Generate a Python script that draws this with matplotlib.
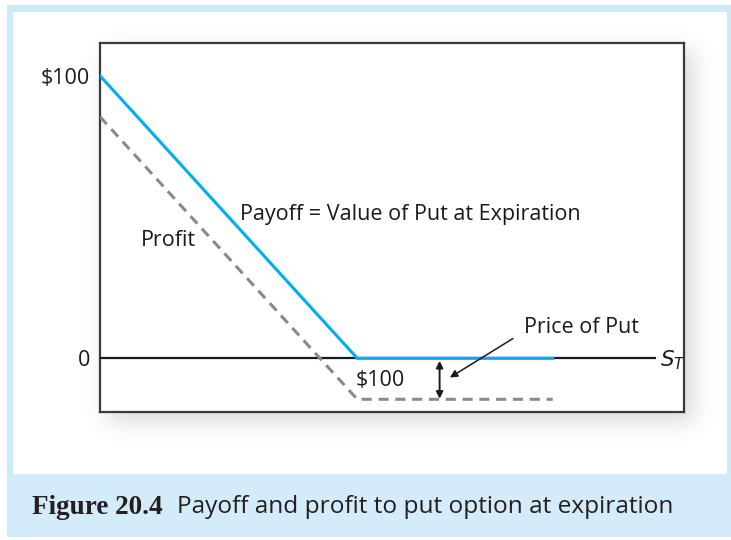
import numpy as np
import matplotlib
matplotlib.use("Agg")
import matplotlib.pyplot as plt
from matplotlib.patches import Rectangle

# Put option with strike $100
strike = 100
put_price = 14.5
stock_prices = [0, strike, 176]
payoff = [max(strike - s, 0) for s in stock_prices]
profit = [p - put_price for p in payoff]

y_ticks = [0, 100]
y_tick_labels = ["0", "$100"]

W, H = 731, 540
DPI = 100
fig = plt.figure(figsize=(W / DPI, H / DPI), dpi=DPI)
fig.patch.set_facecolor("white")

frame_blue = "#cdeaf9"
band_blue = "#d4ecf9"
line_blue = "#00aeef"
dash_gray = "#8a8a8a"


def px_rect(x0, y0, x1, y1, **kw):
    """Rectangle given in pixel coordinates measured from the top-left."""
    return Rectangle((x0 / W, 1 - y1 / H), (x1 - x0) / W, (y1 - y0) / H,
                     transform=fig.transFigure, **kw)


# light-blue frame, white panel and caption band
fig.patches.append(px_rect(7, 5, 731, 537, facecolor=frame_blue, edgecolor="none", zorder=0))
fig.patches.append(px_rect(13, 12, 727, 474, facecolor="white", edgecolor="none", zorder=0))
fig.patches.append(px_rect(7, 474, 731, 537, facecolor=band_blue, edgecolor="none", zorder=0))

# soft drop shadow behind the plot box
ax_l, ax_t, ax_r, ax_b = 100, 43, 684, 412
yy, xx = np.mgrid[0:H, 0:W]
mask = ((xx >= ax_l + 8) & (xx <= ax_r + 8) & (yy >= ax_t + 8) & (yy <= ax_b + 8)).astype(float)
sigma = 11
k = np.arange(-3 * sigma, 3 * sigma + 1)
g = np.exp(-k ** 2 / (2 * sigma ** 2))
g /= g.sum()
blur = np.apply_along_axis(lambda r: np.convolve(r, g, mode="same"), 1, mask)
blur = np.apply_along_axis(lambda c: np.convolve(c, g, mode="same"), 0, blur)
# keep the shadow inside the white panel
panel = (xx >= 13) & (xx < 727) & (yy >= 12) & (yy < 474)
alpha = blur * 0.28 * panel
rgba = np.zeros((H, W, 4))
rgba[..., :3] = 0.45
rgba[..., 3] = alpha
fig.figimage(rgba[::-1], xo=0, yo=0, origin="lower", zorder=1)

ax = fig.add_axes([ax_l / W, 1 - ax_b / H, (ax_r - ax_l) / W, (ax_b - ax_t) / H], zorder=2)
ax.set_facecolor("white")
ax.set_xlim(0, 227)
ax.set_ylim(-19.0, 111.6)
for sp in ax.spines.values():
    sp.set_color("#3a3a3a")
    sp.set_linewidth(1.6)

font = "Open Sans"
fs = 15.5

ax.set_xticks([])
ax.set_yticks(y_ticks)
ax.set_yticklabels(y_tick_labels, fontfamily=font, fontsize=fs, color="#1a1a1a")
ax.tick_params(axis="y", length=0, pad=7)

# horizontal axis line at zero
ax.plot([0, 216], [0, 0], color="#1a1a1a", lw=1.6, zorder=3, solid_capstyle="butt")
ax.text(217.8, -0.5, "$S_T$", fontsize=fs, va="center", ha="left", color="#1a1a1a",
        fontfamily=font)

ax.plot(stock_prices, profit, color=dash_gray, lw=2.2, ls=(0, (3.3, 2.2)), zorder=4)
ax.plot(stock_prices, payoff, color=line_blue, lw=2.2, zorder=5, solid_joinstyle="miter")

ax.text(54.4, 51, "Payoff = Value of Put at Expiration", fontfamily=font, fontsize=fs,
        va="center", ha="left", color="#1a1a1a")
ax.text(16, 41.8, "Profit", fontfamily=font, fontsize=fs, va="center", ha="left", color="#1a1a1a")
ax.text(99.5, -7.7, "$100", fontfamily=font, fontsize=fs, va="center", ha="left", color="#1a1a1a")
ax.text(187, 10.8, "Price of Put", fontfamily=font, fontsize=fs, va="center", ha="center",
        color="#1a1a1a")

# double-headed arrow marking the premium
ax.annotate("", xy=(132, -14.3), xytext=(132, -0.9),
            arrowprops=dict(arrowstyle="<|-|>", color="#1a1a1a", lw=1.4,
                            mutation_scale=10, shrinkA=0, shrinkB=0), zorder=6)
ax.annotate("", xy=(136, -6.8), xytext=(160.5, 7),
            arrowprops=dict(arrowstyle="-|>", color="#1a1a1a", lw=1.1,
                            mutation_scale=11, shrinkA=0, shrinkB=0), zorder=6)

# caption
fig.text(32 / W, 1 - 507 / H, "Figure 20.4", fontfamily="Liberation Serif", fontweight="bold",
         fontsize=19.5, va="center", ha="left", color="#231f20")
fig.text(177 / W, 1 - 507 / H, "Payoff and profit to put option at expiration",
         fontfamily=font, fontsize=17.6, va="center", ha="left", color="#231f20")

fig.savefig("out.png", dpi=DPI)
